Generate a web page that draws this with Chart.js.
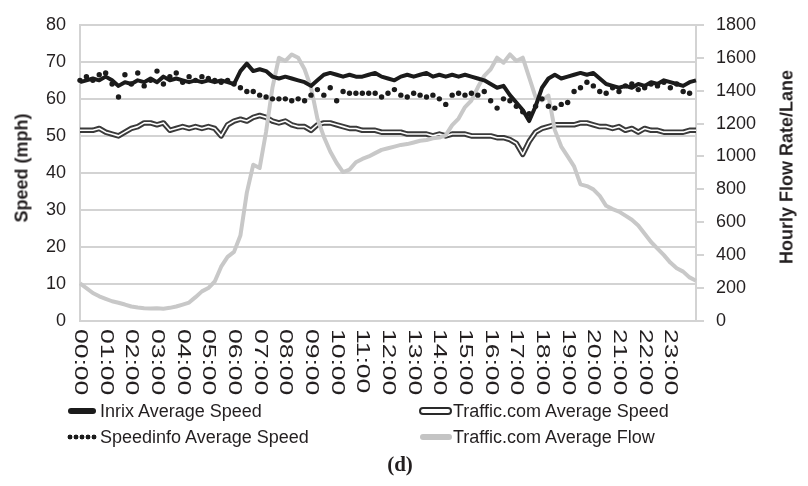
<!DOCTYPE html>
<html>
<head>
<meta charset="utf-8">
<script src="https://cdn.jsdelivr.net/npm/chart.js@4.4.1/dist/chart.umd.min.js"></script>
<style>
  body { margin: 0; background: #fff; font-family: "Liberation Sans", Arial, sans-serif; color: #231f20; }
  #wrap { position: relative; width: 808px; height: 486px; overflow: hidden; }
  canvas { position: absolute; left: 0; top: 0; }
  .atitle { position: absolute; font-weight: bold; font-size: 18px; white-space: nowrap;
            transform: translate(-50%, -50%) rotate(-90deg); }
  .leg { position: absolute; font-size: 18px; line-height: 20px; white-space: nowrap; }
  .sw { position: absolute; }
  #cap { position: absolute; left: 400px; top: 452px; transform: translateX(-50%);
         font-family: "Liberation Serif", "DejaVu Serif", serif; font-weight: bold; font-size: 21px; }
</style>
</head>
<body>
<div id="wrap">
  <canvas id="c" width="808" height="486"></canvas>
  <div class="atitle" style="left:22px; top:168px;">Speed (mph)</div>
  <div class="atitle" style="left:787px; top:167px;">Hourly Flow Rate/Lane</div>

  <div class="sw" style="left:68px; top:408px; width:28px; height:6px; background:#1b1b1b; border-radius:3px;"></div>
  <div class="leg" style="left:100px; top:401px;">Inrix Average Speed</div>
  <div class="sw" style="left:67px; top:434px; width:30px; height:6px;
       background: radial-gradient(circle, #1b1b1b 2.2px, transparent 2.7px) repeat-x; background-size: 6px 6px;"></div>
  <div class="leg" style="left:100px; top:427px;">Speedinfo Average Speed</div>

  <div class="sw" style="left:419px; top:407px; width:29px; height:4px; border:2px solid #2a2a2a; background:#fff; border-radius:4px;"></div>
  <div class="leg" style="left:453px; top:401px;">Traffic.com Average Speed</div>
  <div class="sw" style="left:420px; top:434px; width:32px; height:6px; background:#c4c4c4; border-radius:3px;"></div>
  <div class="leg" style="left:453px; top:427px;">Traffic.com Average Flow</div>

  <div id="cap">(d)</div>
</div>
<script>
// ─── 資料（每 15 分鐘一點，00:00 ~ 24:00） ─────────────────
const hourLabels = [];
for (let h = 0; h < 24; h++) hourLabels.push(String(h).padStart(2, "0") + ":00");

const timeLabels = [];
for (let i = 0; i <= 96; i++) {
  const h = Math.floor(i / 4), m = (i % 4) * 15;
  timeLabels.push(String(h).padStart(2, "0") + ":" + String(m).padStart(2, "0"));
}

const inrixSpeed = [
  64.5, 65, 65.5, 65, 66, 65, 63.5, 64.5, 64, 65, 64.5, 65.5, 64.5, 66, 65, 65.5,
  65, 64.5, 65, 64.5, 65, 64.5, 65, 64.5, 64, 67.5, 69.5, 67.5, 68, 67.5, 66, 65.5,
  66, 65.5, 65, 64.5, 63.5, 65, 66.5, 67, 66.5, 66, 66.5, 66, 66, 66.5, 67, 66,
  65.5, 65, 66, 66.5, 66, 66.5, 67, 66, 66.5, 66, 66.5, 66, 66.5, 66, 65.5, 65,
  64, 63, 63.5, 61, 59, 57, 54, 58, 63, 65.5, 66.5, 65.5, 66, 66.5, 67, 66.5,
  67, 65.5, 64, 63.5, 63, 63.5, 63, 64, 63.5, 64.5, 64, 65, 64.5, 64, 63.5, 64.5, 65
];

const speedinfoSpeed = [
  65, 66, 65, 66.5, 67, 64, 60.5, 66.5, 64, 67, 63.5, 65, 67.5, 64, 66, 67,
  64.5, 66, 65, 66, 65.5, 65, 64.5, 65, 64, 63, 62, 62, 61, 60.5, 60, 60,
  60, 59.5, 60, 59.5, 61, 62.5, 61, 63, 59.5, 62, 61.5, 61.5, 61.5, 61.5, 61.5, 60.5,
  61.5, 62.5, 61, 60.5, 61.5, 61, 60.5, 61, 60, 58.5, 61, 61.5, 61, 61.5, 61, 62,
  59.5, 57.5, 60, 59.5, 58, 56.5, 56, 58, 60, 58, 57.5, 58.5, 59, 62, 63, 64.5,
  63.5, 62, 61.5, 63, 62, 63.5, 64, 62.5, 63, 64, 63.5, 64.5, 63, 64, 62, 61.5, null
];

const trafficSpeed = [
  51.5, 51.5, 51.5, 52, 51, 50.5, 50, 51, 52, 52.5, 53.5, 53.5, 53, 53.5, 51.5, 52,
  52.5, 52, 52.5, 52, 52.5, 52, 50, 53, 54, 54.5, 54, 55, 55.5, 55, 54, 53.5,
  54, 53, 52.5, 52.5, 51.5, 53, 53.5, 53.5, 53, 52.5, 52, 52, 51.5, 51.5, 51.5, 51,
  51, 51, 51, 50.5, 50.5, 50.5, 50.5, 50, 50.5, 50, 50.5, 50.5, 50.5, 50, 50, 50,
  50, 49.5, 49.5, 49, 48, 45, 48.5, 51, 52, 52.5, 53, 53, 53, 53, 53.5, 53.5,
  53, 52.5, 52.5, 52, 52.5, 51.5, 52, 51, 52, 51.5, 51.5, 51, 51, 51, 51, 51.5, 51.5
];

const trafficFlow = [
  228, 200, 170, 150, 135, 120, 111, 100, 88, 82, 78, 76, 78, 75, 80, 88,
  100, 112, 145, 180, 200, 240, 330, 390, 420, 520, 780, 950, 930, 1150, 1420, 1600,
  1580, 1620, 1600, 1530, 1420, 1230, 1120, 1030, 960, 905, 920, 965, 985, 1000, 1020, 1040,
  1050, 1060, 1070, 1075, 1085, 1095, 1100, 1110, 1115, 1130, 1190, 1230, 1300, 1340, 1420, 1490,
  1530, 1600, 1570, 1620, 1580, 1600, 1480, 1360, 1340, 1370, 1160, 1060, 1000, 940, 830, 820,
  800, 760, 700, 680, 665, 640, 615, 580, 530, 480, 440, 400, 355, 320, 300, 265, 245
];

const textColor = "#231f20";
const gridColor = "#d3d3d3";

// ─── 橫軸時間標籤（順時針轉 90 度，字形沿方向拉長） ─────────────────
const hourLabelPlugin = {
  id: "hourLabels",
  afterDraw(chart) {
    const xs = chart.scales.x, c = chart.ctx;
    c.save();
    c.font = '18px "Liberation Sans", Arial, sans-serif';
    c.fillStyle = textColor;
    c.textAlign = "left";
    c.textBaseline = "middle";
    hourLabels.forEach((lab, h) => {
      const x = xs.getPixelForValue(h * 4);
      c.save();
      c.translate(x, xs.top + 8);
      c.rotate(Math.PI / 2);
      c.scale(1.47, 1);
      c.fillText(lab, 0, 0);
      c.restore();
    });
    c.restore();
  }
};

new Chart(document.getElementById("c"), {
  type: "line",
  data: {
    labels: timeLabels,
    datasets: [
      { label: "Inrix Average Speed", data: inrixSpeed, yAxisID: "y", order: 0,
        borderColor: "#1b1b1b", borderWidth: 4, pointRadius: 0 },
      { label: "Speedinfo Average Speed", data: speedinfoSpeed, yAxisID: "y", order: 1,
        showLine: false, pointRadius: 2.7, pointBorderWidth: 0,
        pointBackgroundColor: "#1b1b1b", borderColor: "#1b1b1b" },
      { label: "Traffic.com Average Flow", data: trafficFlow, yAxisID: "y1", order: 2,
        borderColor: "#c8c8c8", borderWidth: 4, pointRadius: 0 },
      { label: "Traffic.com Average Speed", data: trafficSpeed, yAxisID: "y", order: 3,
        borderColor: "#ffffff", borderWidth: 1.6, pointRadius: 0 },
      { label: "Traffic.com Average Speed (edge)", data: trafficSpeed, yAxisID: "y", order: 4,
        borderColor: "#3a3a3a", borderWidth: 5.5, pointRadius: 0 }
    ]
  },
  options: {
    responsive: false,
    animation: false,
    layout: { padding: { top: 13, bottom: 90, left: 0, right: 0 } },
    plugins: { legend: { display: false }, tooltip: { enabled: false } },
    elements: { line: { tension: 0, borderJoinStyle: "round" } },
    scales: {
      x: {
        type: "category", offset: false,
        grid: { display: false }, border: { display: false },
        ticks: { display: false },
        afterFit(s) { s.height = 75; }
      },
      y: {
        position: "left", min: 0, max: 80,
        ticks: { stepSize: 10, padding: 14, color: textColor,
                 font: { size: 18, family: '"Liberation Sans", Arial, sans-serif' } },
        grid: { color: gridColor, lineWidth: 2, drawTicks: false },
        border: { color: gridColor, width: 2 },
        afterFit(s) { s.width = 80; }
      },
      y1: {
        position: "right", min: 0, max: 1800,
        ticks: { stepSize: 200, padding: 12, color: textColor,
                 font: { size: 18, family: '"Liberation Sans", Arial, sans-serif' },
                 callback: (v) => String(v) },
        grid: { drawOnChartArea: false, drawTicks: true, tickLength: 8, color: gridColor, lineWidth: 2 },
        border: { color: gridColor, width: 2 },
        afterFit(s) { s.width = 112; }
      }
    }
  },
  plugins: [hourLabelPlugin]
});
</script>
</body>
</html>
